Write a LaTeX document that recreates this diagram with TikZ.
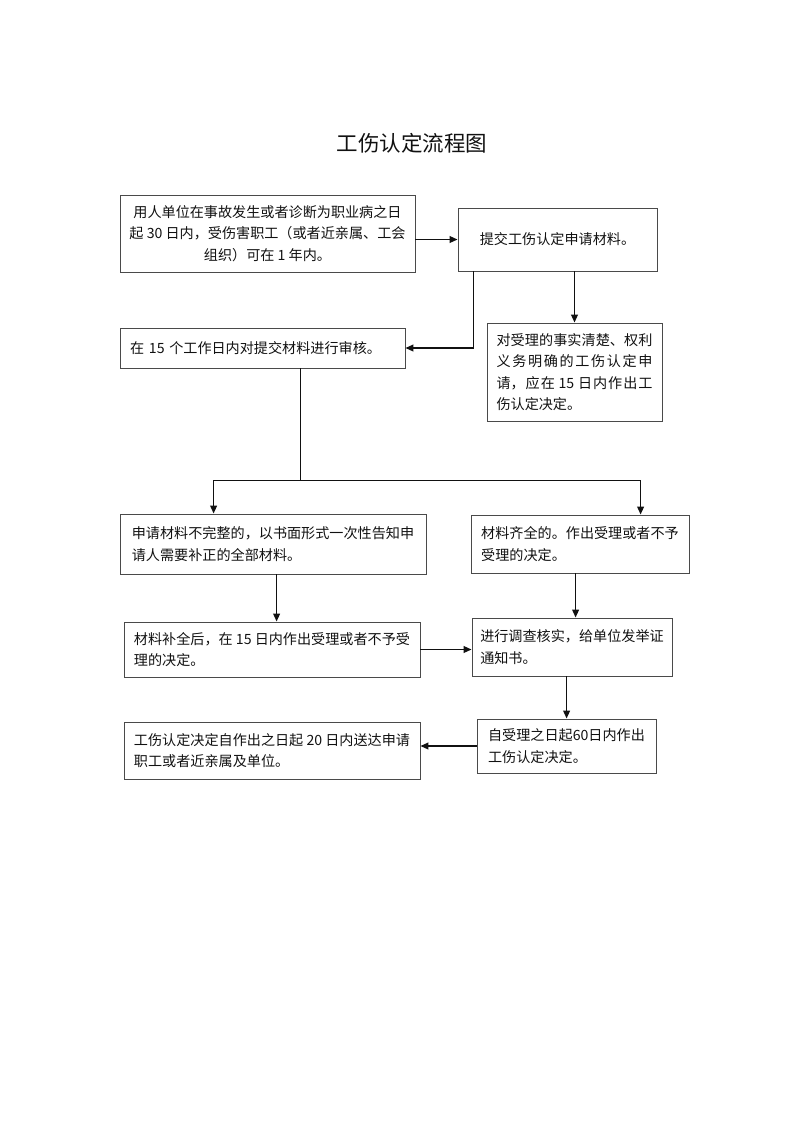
\documentclass[tikz,border=0pt]{standalone}
\usepackage{fontspec}
\setmainfont{Noto Sans CJK SC}
\usepackage{xcolor}
\usetikzlibrary{arrows.meta,calc}
\definecolor{gstrait}{HTML}{4A4A4A}
\definecolor{gsnoir}{HTML}{111111}
\XeTeXlinebreaklocale "zh"
\XeTeXlinebreakskip=0pt plus 2pt

\begin{document}
\begin{tikzpicture}[x=0.744pt, y=-0.744pt,
  every node/.style={font={\fontsize{10.5}{16}\selectfont}, text=gsnoir},
  gsbox/.style 2 args={draw=gstrait, line width=0.6pt, minimum width=#1*0.744pt, minimum height=#2*0.744pt, align=left},
  gsarrow/.style={gsnoir, line width=1.3pt, -{Triangle[length=6pt,width=5pt]}}]
  \useasboundingbox (0,0) rectangle (800,1132);
  % titre
  \node[font={\fontsize{16}{20}\selectfont}] (titre) at (412,143) {工伤认定流程图};
  % demande et depot
  \node[gsbox={295}{77}, align=center] (apply) at (267.5,233.5) {用人单位在事故发生或者诊断为职业病之日\\起 30 日内，受伤害职工（或者近亲属、工会\\组织）可在 1 年内。};
  \node[gsbox={199}{63}] (submit) at (557.5,239.5) {提交工伤认定申请材料。};
  \draw[gsarrow] (apply.east |- submit.west) -- (submit.west);
  % examen / cas simple
  \node[gsbox={285}{40}, text width=197pt] (review) at (262.5,348) {在 15 个工作日内对提交材料进行审核。};
  \node[gsbox={175}{98}, text width=116pt, align=justify] (fast) at (574.5,372) {对受理的事实清楚、权利\linebreak 义务明确的工伤认定申\linebreak 请，应在 15 日内作出工\linebreak 伤认定决定。};
  \coordinate (b1) at ($(submit.south west)+(16,0)$);
  \draw[gsarrow] (b1) |- (review.east);
  \draw[gsarrow] (submit.south -| fast.north) -- (fast.north);
  % deux branches
  \node[gsbox={306}{60}] (incomplete) at (273,544) {申请材料不完整的，以书面形式一次性告知申\\请人需要补正的全部材料。};
  \node[gsbox={218}{58}] (complete) at (580,544) {材料齐全的。作出受理或者不予\\受理的决定。};
  \coordinate (tri) at ($(review.south west)+(181,112)$);
  \draw[gsnoir, line width=1.3pt] (review.south -| tri) -- (tri);
  \draw[gsarrow] (tri) -| ($(incomplete.north west)+(94,0)$);
  \draw[gsarrow] (tri) -| ($(complete.north west)+(170,0)$);
  % suite
  \node[gsbox={296}{55}] (resubmit) at (272,649.5) {材料补全后，在 15 日内作出受理或者不予受\\理的决定。};
  \node[gsbox={200}{58}] (investigate) at (572,647) {进行调查核实，给单位发举证\\通知书。};
  \coordinate (e1) at ($(incomplete.south west)+(157,0)$);
  \coordinate (f1) at ($(complete.south west)+(105,0)$);
  \draw[gsarrow] (e1) -- (e1 |- resubmit.north);
  \draw[gsarrow] (f1) -- (f1 |- investigate.north);
  \draw[gsarrow] (resubmit.east) -- (resubmit.east -| investigate.west);
  % decision
  \node[gsbox={296}{57}] (deliver) at (272,750.5) {工伤认定决定自作出之日起 20 日内送达申请\\职工或者近亲属及单位。};
  \node[gsbox={179}{54}] (decide) at (566.5,746) {自受理之日起60日内作出\\工伤认定决定。};
  \coordinate (h1) at ($(investigate.south west)+(95,0)$);
  \draw[gsarrow] (h1) -- (h1 |- decide.north);
  \draw[gsarrow] (decide.west) -- (decide.west -| deliver.east);
\end{tikzpicture}
\end{document}
